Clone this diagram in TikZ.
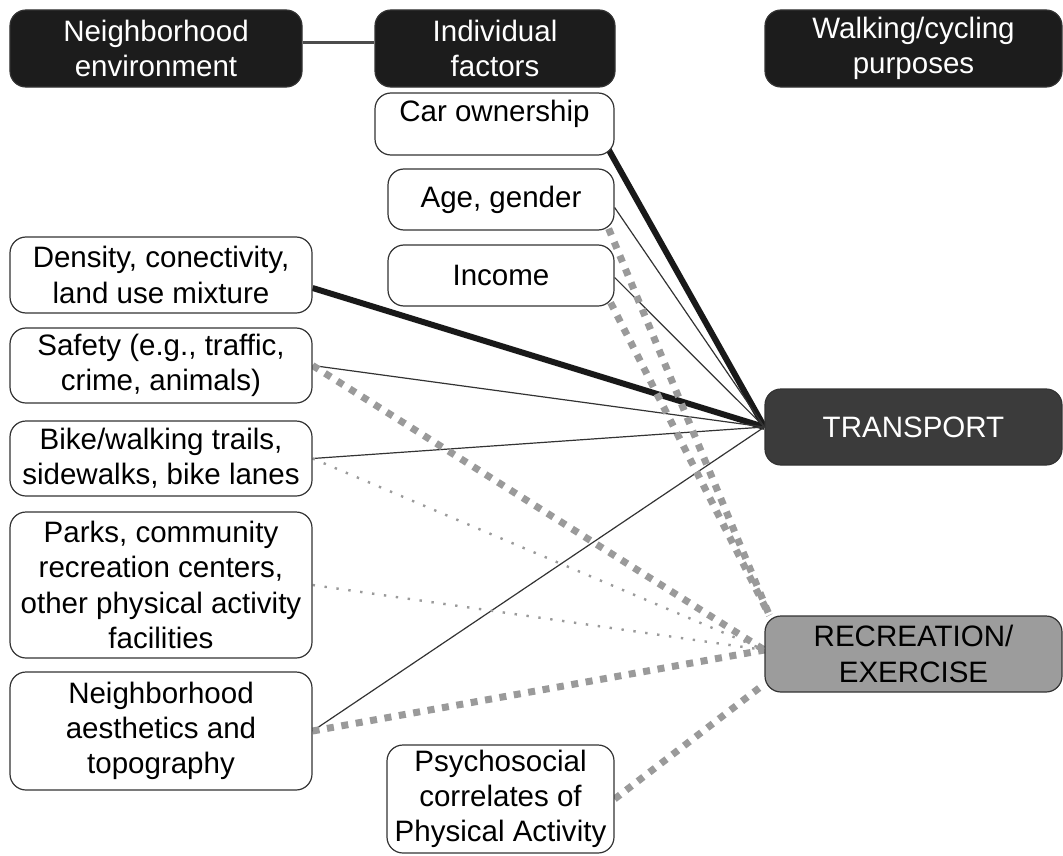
\documentclass[tikz,border=0pt]{standalone}
\usepackage{fontspec}
\setmainfont{Liberation Sans}
\usetikzlibrary{calc}
\pgfdeclarelayer{background}
\pgfsetlayers{background,main}
\definecolor{headblack}{HTML}{1C1C1C}
\definecolor{transgray}{HTML}{3B3B3B}
\definecolor{recgray}{HTML}{9C9C9C}
\definecolor{linkgray}{HTML}{9A9A9A}
\tikzset{
	box/.style={draw=black!80, line width=0.3mm, rounded corners=4mm, fill=white, align=center,
		font=\fontsize{21}{25}\selectfont, inner sep=0pt},
	header/.style={box, fill=headblack, text=white, minimum height=19.25mm},
	factor/.style={box, minimum width=56.5mm, minimum height=15.25mm},
	envbox/.style={box, minimum width=75.5mm},
	purpose/.style={box, minimum width=74.25mm, minimum height=19mm},
	strong/.style={line width=1.5mm, black!90},
	weak/.style={line width=0.3mm, black!80},
	graydash/.style={line width=1.75mm, linkgray, dash pattern=on 1.75mm off 1.9mm},
	graydot/.style={line width=0.6mm, linkgray, dash pattern=on 0.6mm off 2.4mm}
}
\begin{document}
\begin{tikzpicture}[x=0.25mm, y=-0.25mm]
		\useasboundingbox (0,0) rectangle (1063,856);

		% Column headers
		\node[header, minimum width=73mm] (env) at (156,48.5) {Neighborhood\\environment};
		\node[header, minimum width=60mm] (indiv) at (495,48.5) {Individual\\factors};
		\node[header, minimum width=74.25mm] (purp) at (913.5,48.5) {Walking/cycling\\purposes};

		% Individual factors
		\node[factor, minimum width=59.75mm, minimum height=15.5mm, text depth=6.4mm] (car) at (494.5,124) {Car ownership};
		\node[factor] (age) at (501,199.5) {Age, gender};
		\node[factor] (inc) at (501,275.5) {Income};
		\node[factor, minimum width=56.75mm, minimum height=27mm] (psych) at (500.5,799) {Psychosocial\\correlates of\\Physical Activity};

		% Neighborhood environment
		\node[envbox, minimum height=19mm] (dens) at (161,275) {Density, conectivity,\\land use mixture};
		\node[envbox, minimum height=18.75mm] (safe) at (161,365.5) {Safety (e.g., traffic,\\crime, animals)};
		\node[envbox, minimum height=18.75mm] (bike) at (161,458.5) {Bike/walking trails,\\sidewalks, bike lanes};
		\node[envbox, minimum height=36.5mm] (parks) at (161,585) {Parks, community\\recreation centers,\\other physical activity\\facilities};
		\node[envbox, minimum height=29.5mm] (aest) at (161,731) {Neighborhood\\aesthetics and\\topography};

		% Purposes
		\node[purpose, fill=transgray, text=white] (trans) at (913.5,427) {TRANSPORT};
		\node[purpose, fill=recgray] (rec) at (913.5,654) {RECREATION/\\EXERCISE};

		\begin{pgfonlayer}{background}
			\draw[line width=0.75mm, black!70] ($(env.east)+(0,-6)$) -- ($(indiv.west)+(0,-6)$);

			% Links to transport
			\draw[strong] ($(car.south east)+(-6,-6)$) -- (trans.west);
			\draw[strong] ($(dens.east)+(0,13)$) -- (trans.west);
			\draw[weak] ($(age.east)+(0,8)$) -- (trans.west);
			\draw[weak] ($(inc.east)+(0,2)$) -- (trans.west);
			\foreach \from in {safe, bike, aest} {
				\draw[weak] (\from.east) -- (trans.west);
			}

			% Links to recreation
			\draw[graydash] ($(age.south east)+(-6,-2)$) -- ($(rec.north west)+(5,0)$);
			\draw[graydash] ($(inc.south east)+(-4,-4)$) -- ($(rec.north west)+(5,0)$);
			\draw[graydash] (safe.east) -- ($(rec.west)+(0,-4)$);
			\draw[graydash] (aest.east) -- ($(rec.west)+(0,-4)$);
			\draw[graydash] (psych.east) -- ($(rec.west)+(0,30)$);
			\foreach \from in {bike, parks} {
				\draw[graydot] (\from.east) -- ($(rec.west)+(0,-4)$);
			}
		\end{pgfonlayer}
	\end{tikzpicture}
\end{document}
